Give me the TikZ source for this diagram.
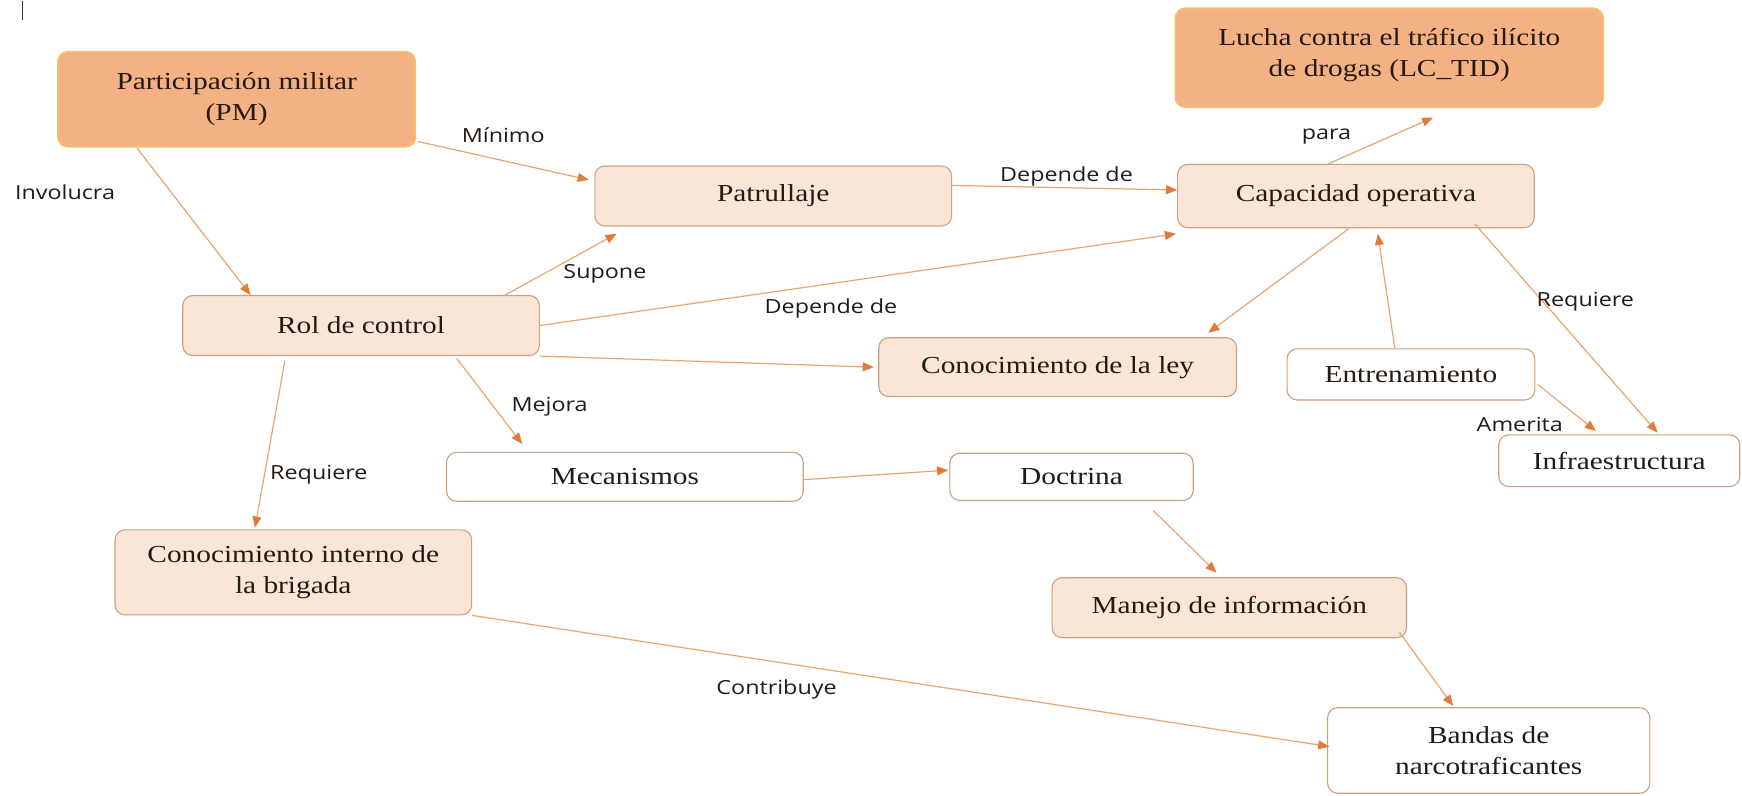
\documentclass[tikz,border=0pt]{standalone}
\usepackage{fontspec}
\setmainfont{Liberation Serif}[FakeStretch=1.2]
\newfontfamily\labfont{Open Sans}[FakeStretch=1.2]
\usetikzlibrary{arrows.meta}
\definecolor{darkfill}{HTML}{F4B183}
\definecolor{darkborder}{HTML}{F4BE6E}
\definecolor{lightfill}{HTML}{FBE5D6}
\definecolor{bordc}{HTML}{C9A283}
\definecolor{arrc}{HTML}{E8A673}
\definecolor{tipc}{HTML}{E07B39}
\definecolor{txtc}{HTML}{231A14}
\tikzset{
  box/.style={rounded corners=9pt, draw=bordc, line width=1pt, align=center,
    inner sep=0pt, text=txtc, font=\fontsize{22}{28}\selectfont},
  darkbox/.style={box, fill=darkfill, draw=darkborder, line width=1.6pt},
  lightbox/.style={box, fill=lightfill},
  whitebox/.style={box, fill=white},
  lbl/.style={font=\labfont\fontsize{17.5}{21}\selectfont, text=txtc, inner sep=0pt},
  arr/.style={draw=arrc, line width=1.1pt, -{Triangle[length=10pt,width=8pt,color=tipc,fill=tipc]}}
}
\begin{document}
\begin{tikzpicture}[x=1pt,y=-1pt]
\useasboundingbox (0,0) rectangle (1568,715.6);
% cursor mark
\coordinate (c1) at (20.5,1);
\coordinate (c2) at (20.5,18);
\draw[line width=1pt, black!80] (c1) -- (c2);

% nodes
\node[darkbox, minimum width=321.7, minimum height=85.5] (PM) at (213,89.3) {Participación militar\\(PM)};
\node[darkbox, minimum width=385, minimum height=89] (LC) at (1250.5,52) {Lucha contra el tráfico ilícito\\de drogas (LC\_TID)\\[-18pt]};
\node[lightbox, minimum width=321, minimum height=54] (Pat) at (696,176.4) {Patrullaje};
\node[lightbox, minimum width=321, minimum height=57] (Cap) at (1220.5,176.5) {Capacidad operativa};
\node[lightbox, minimum width=321, minimum height=54] (Rol) at (325,293) {Rol de control};
\node[lightbox, minimum width=322, minimum height=53] (Ley) at (952,330.5) {Conocimiento de la ley};
\node[whitebox, minimum width=223, minimum height=46] (Ent) at (1270,337) {Entrenamiento};
\node[whitebox, minimum width=217, minimum height=46.5] (Inf) at (1457.5,414.7) {Infraestructura};
\node[whitebox, minimum width=321, minimum height=44] (Mec) at (562.5,429.2) {Mecanismos};
\node[whitebox, minimum width=219, minimum height=42.5] (Doc) at (964.5,429.2) {Doctrina};
\node[lightbox, minimum width=321, minimum height=76.5] (CI) at (264,515.2) {Conocimiento interno de\\la brigada};
\node[lightbox, minimum width=319, minimum height=54] (Man) at (1106.5,547) {Manejo de información};
\node[whitebox, minimum width=290, minimum height=77] (Ban) at (1340,675.5) {Bandas de\\narcotraficantes};

% connectors
\draw[arr] ([xshift=-90]PM.south) -- ([xshift=-99.5]Rol.north);
\draw[arr] ([xshift=1.5,yshift=5.5]PM.south east) -- ([xshift=-5,yshift=14.5]Pat.west);
\draw[arr] ([xshift=129.7]Rol.north) -- ([xshift=-141,yshift=-6.5]Pat.south);
\draw[arr] ([yshift=9.5]Pat.east) -- ([yshift=5.5]Cap.west);
\draw[arr] (Rol.east) -- ([xshift=-1,yshift=-5]Cap.south west);
\draw[arr] ([xshift=-25]Cap.north) -- ([xshift=39.5,yshift=-8.5]LC.south);
\draw[arr] ([xshift=-6]Cap.south) -- ([xshift=-26,yshift=4]Ley.north east);
\draw[arr] ([xshift=-14.5]Ent.north) -- ([xshift=19.7,yshift=-5]Cap.south);
\draw[arr] ([xshift=-54,yshift=4]Cap.south east) -- ([xshift=34.5,yshift=1.5]Inf.north);
\draw[arr] ([xshift=2,yshift=-9]Ent.east) -- ([xshift=-21,yshift=3]Inf.north);
\draw[arr] (Rol.south east) -- ([xshift=-4]Ley.west);
\draw[arr] ([xshift=86,yshift=-2]Rol.south) -- ([xshift=-92.5,yshift=7]Mec.north);
\draw[arr] ([xshift=-68.5,yshift=-4]Rol.south) -- ([xshift=-34.5,yshift=1.5]CI.north);
\draw[arr] ([yshift=-2.5]Mec.east) -- ([xshift=-1,yshift=6]Doc.west);
\draw[arr] ([xshift=73.5,yshift=-8.5]Doc.south) -- ([xshift=-11.5,yshift=4]Man.north);
\draw[arr] ([xshift=-7,yshift=5.5]Man.south east) -- ([xshift=-32,yshift=1]Ban.north);
\draw[arr] (CI.south east) -- ([xshift=2,yshift=3.5]Ban.west);

% labels
\node[lbl] (l1) at (58.5,173) {Involucra};
\node[lbl] (l2) at (453,121.5) {Mínimo};
\node[lbl] (l3) at (544.5,246) {Supone};
\node[lbl] (l4) at (960,159) {Depende de};
\node[lbl] (l5) at (748,277.5) {Depende de};
\node[lbl] (l6) at (1194,123) {para};
\node[lbl] (l7) at (1427,271.5) {Requiere};
\node[lbl] (l8) at (1368,382.5) {Amerita};
\node[lbl] (l9) at (494.7,366) {Mejora};
\node[lbl] (l10) at (287,427.5) {Requiere};
\node[lbl] (l11) at (699,621) {Contribuye};
\end{tikzpicture}
\end{document}
